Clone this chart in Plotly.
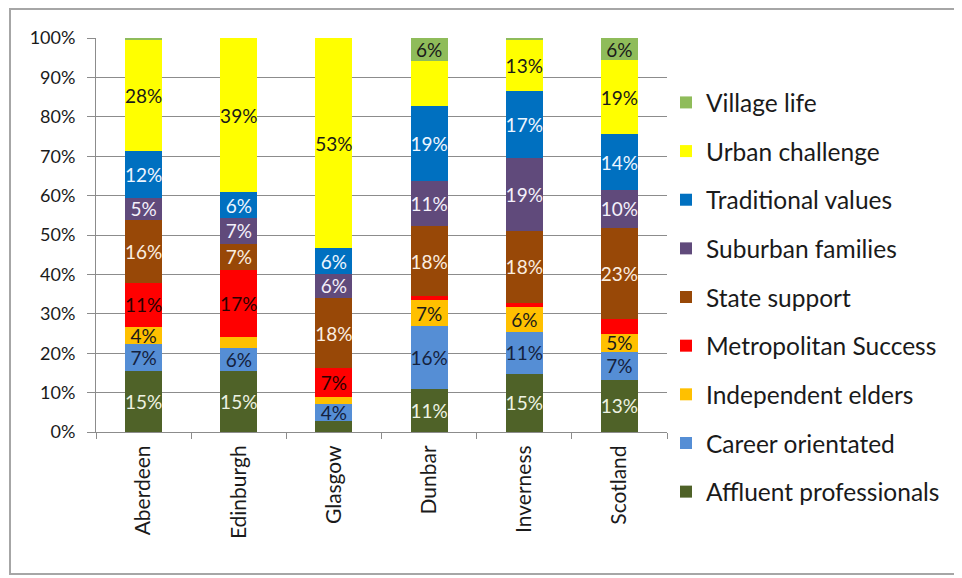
import plotly.graph_objects as go

places = ["Aberdeen", "Edinburgh", "Glasgow", "Dunbar", "Inverness", "Scotland"]

# shares (%) per segment, bottom of the stack first
affluent_professionals = [15.4, 15.4, 2.8, 10.9, 14.8, 13.2]
career_orientated = [7.0, 5.8, 4.4, 16.0, 10.6, 7.2]
independent_elders = [4.3, 3.0, 1.8, 6.6, 6.4, 4.6]
metropolitan_success = [11.2, 17.0, 7.2, 0.9, 1.0, 3.8]
state_support = [16.0, 6.6, 17.8, 18.0, 18.2, 23.0]
suburban_families = [5.4, 6.6, 6.2, 11.2, 18.6, 9.6]
traditional_values = [12.0, 6.4, 6.4, 19.1, 17.0, 14.2]
urban_challenge = [28.4, 39.2, 53.4, 11.5, 12.8, 18.8]
village_life = [0.3, 0.0, 0.0, 5.8, 0.6, 5.6]

# segments left without a data label in the original
unlabelled = {("Urban challenge", "Dunbar")}

series = [
    ("Affluent professionals", affluent_professionals, "#4f6228", "#eef3e2"),
    ("Career orientated", career_orientated, "#558ed5", "#14213d"),
    ("Independent elders", independent_elders, "#ffc000", "#1a1a1a"),
    ("Metropolitan Success", metropolitan_success, "#ff0000", "#2a0000"),
    ("State support", state_support, "#984807", "#fbeee0"),
    ("Suburban families", suburban_families, "#604a7b", "#f4f0fa"),
    ("Traditional values", traditional_values, "#0070c0", "#eef6ff"),
    ("Urban challenge", urban_challenge, "#ffff00", "#1a1a1a"),
    ("Village life", village_life, "#8fbc5a", "#1a1a1a"),
]

# the page body has an 8px margin, so work in page pixels and shift
OFF = 8
W, H = 962 - OFF, 578 - OFF
L, R, T, B = 96 - OFF, 667 - OFF, 38 - OFF, 432 - OFF


def px_x(x):
    return (x - OFF - L) / (R - L)


def px_y(y):
    return (B - (y - OFF)) / (B - T)


def label(name, place, v):
    if v < 4 or (name, place) in unlabelled:
        return ""
    return f"{v:.0f}%"


fig = go.Figure()
for i, (name, vals, color, tcolor) in enumerate(series):
    fig.add_trace(
        go.Bar(
            name=name,
            x=places,
            y=vals,
            marker=dict(color=color, line=dict(width=0)),
            text=[label(name, p, v) for p, v in zip(places, vals)],
            textposition="inside",
            insidetextanchor="middle",
            textangle=0,
            constraintext="none",
            textfont=dict(family="Lato", size=19, color=tcolor),
            legendgroup=name,
            legendrank=len(series) - i,
        )
    )

fig.update_layout(
    barmode="stack",
    bargap=0.61,
    width=W,
    height=H,
    margin=dict(l=L, r=W - R, t=T, b=H - B, autoexpand=False),
    paper_bgcolor="white",
    plot_bgcolor="white",
    font=dict(family="Lato", color="#1a1a1a"),
    showlegend=True,
    legend=dict(
        tracegroupgap=13.8,
        maxheight=H,
        x=px_x(666),
        xanchor="left",
        y=px_y(80),
        yanchor="top",
        font=dict(family="Lato", size=24.5, color="#1a1a1a"),
        bgcolor="rgba(0,0,0,0)",
    ),
    shapes=[
        dict(
            type="rect",
            xref="paper",
            yref="paper",
            x0=px_x(10),
            x1=px_x(957),
            y0=px_y(574),
            y1=px_y(9),
            line=dict(color="#a6a6a6", width=2),
            fillcolor="rgba(0,0,0,0)",
            layer="below",
        )
    ],
)

fig.update_yaxes(
    range=[0, 100],
    dtick=10,
    ticksuffix="%",
    showgrid=True,
    gridcolor="#8c8c8c",
    gridwidth=1,
    zeroline=False,
    showline=True,
    linecolor="#8c8c8c",
    ticks="outside",
    ticklen=8,
    tickcolor="#8c8c8c",
    ticklabelstandoff=8,
    tickfont=dict(family="Lato", size=18, color="#1a1a1a"),
)
fig.update_xaxes(
    showline=True,
    linecolor="#8c8c8c",
    ticks="outside",
    tickson="boundaries",
    ticklen=6,
    tickcolor="#8c8c8c",
    tickangle=-90,
    ticklabelstandoff=4,
    tickfont=dict(family="Lato", size=21, color="#1a1a1a"),
)

fig.write_html("out.html")
